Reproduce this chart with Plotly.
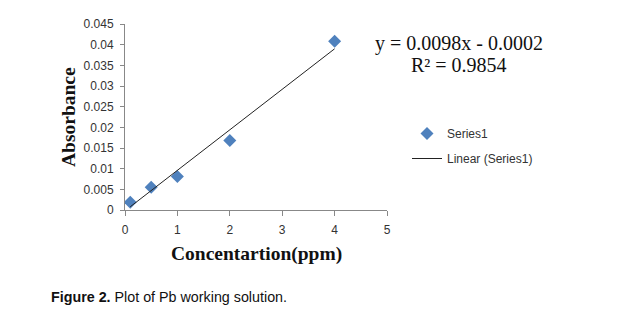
import plotly.graph_objects as go

conc = [0.1, 0.5, 1, 2, 4]
absorb = [0.0019, 0.0055, 0.0081, 0.0168, 0.0408]
slope = 0.0098
intercept = -0.0002
fit_x = [0.1, 4]
fit_y = [slope * v + intercept for v in fit_x]
x_ticks = [0, 1, 2, 3, 4, 5]
y_ticks = [0, 0.005, 0.01, 0.015, 0.02, 0.025, 0.03, 0.035, 0.04, 0.045]
y_labels = ["0", "0.005", "0.01", "0.015", "0.02", "0.025", "0.03", "0.035", "0.04", "0.045"]

L, R, T, B = 125, 233, 24, 101
W, H = 620, 311
pw, ph = W - L - R, H - T - B

def px(x):
    return (x - L) / pw

def py(y):
    return (H - B - y) / ph

fig = go.Figure()
fig.add_trace(go.Scatter(x=conc, y=absorb, mode="markers", name="Series1", legendgroup="a",
                         marker=dict(symbol="diamond", size=10, color="#4F81BD")))
fig.add_trace(go.Scatter(x=fit_x, y=fit_y, mode="lines", name="Linear (Series1)", legendgroup="b",
                         line=dict(color="#222222", width=1)))

tickfont = dict(family="Liberation Sans", size=12, color="#333333")
fig.update_xaxes(range=[0, 5], tickvals=x_ticks, showgrid=False, zeroline=False,
                 showline=True, linecolor="#888888", linewidth=1,
                 ticks="outside", ticklen=5, tickcolor="#888888", tickfont=tickfont,
                 ticklabelstandoff=4)
fig.update_yaxes(range=[0, 0.045], tickvals=y_ticks, ticktext=y_labels, showgrid=False,
                 zeroline=False, showline=True, linecolor="#888888", linewidth=1,
                 ticks="outside", ticklen=4, tickcolor="#888888", tickfont=tickfont,
                 ticklabelstandoff=4)

serif = "Liberation Serif"

def note(text, x, y, size, family=serif, angle=0, xanchor="center"):
    fig.add_annotation(text=text, xref="paper", yref="paper", x=px(x), y=py(y),
                       xanchor=xanchor, yanchor="middle", textangle=angle, showarrow=False,
                       font=dict(family=family, size=size, color="#111111"))

note("<b>Absorbance</b>", 68, 117, 19.5, angle=-90)
note("<b>Concentartion(ppm)</b>", 256, 254, 19.5)
note("y = 0.0098x - 0.0002", 459, 43, 20)
note("R² = 0.9854", 459, 65, 20)
note("<b>Figure 2.</b> Plot of Pb working solution.", 49, 297, 14.3,
     family="Liberation Sans Narrow, Liberation Sans", xanchor="left")

fig.update_layout(width=W, height=H, margin=dict(l=L, r=R, t=T, b=B),
                  paper_bgcolor="white", plot_bgcolor="white",
                  showlegend=True,
                  legend=dict(x=px(407), y=py(119), xanchor="left", yanchor="top",
                              font=dict(family="Liberation Sans", size=12, color="#333333"),
                              bgcolor="rgba(0,0,0,0)", tracegroupgap=6))

fig.write_html("out.html")
